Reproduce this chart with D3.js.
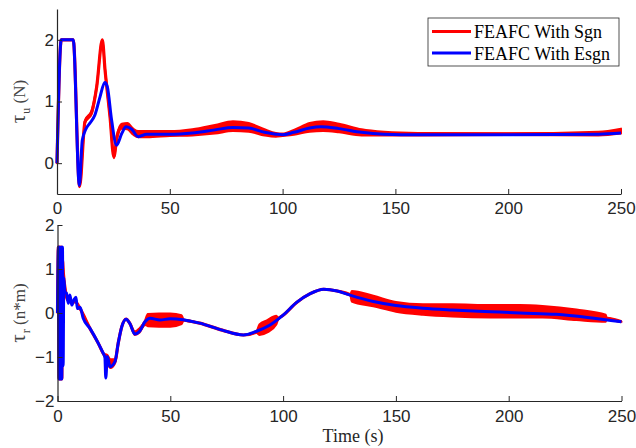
<!DOCTYPE html>
<html>
<head>
<meta charset="utf-8">
<script src="https://cdn.jsdelivr.net/npm/d3@7"></script>
<style>
  body { margin: 0; background: white; }
</style>
</head>
<body>
<main></main>
<script>
// upper panel: tau_u (N)
const tTopSgn = [0, 1.9, 7.2, 10, 12.4, 15.4, 17.6, 20.1, 21.3, 23.5, 25.2, 26.6, 28.7, 31.2, 33.8, 36, 40, 50, 60, 70, 78, 85, 92, 97, 100, 105, 112, 118, 125, 135, 145, 160, 200, 240, 250]
const vTopSgn = [0, 2, 2, -0.38, 0.67, 0.83, 1.24, 2.0, 1.51, 0.75, 0.10, 0.43, 0.60, 0.60, 0.51, 0.47, 0.47, 0.48, 0.50, 0.55, 0.60, 0.58, 0.50, 0.46, 0.46, 0.50, 0.58, 0.60, 0.57, 0.50, 0.48, 0.47, 0.47, 0.48, 0.52]
// half width of the chattering band around the Sgn curve
const aTopSgn = [0, 0, 0, 0, 0.02, 0.03, 0.02, 0, 0.02, 0.02, 0.02, 0.03, 0.04, 0.05, 0.05, 0.05, 0.05, 0.04, 0.05, 0.07, 0.08, 0.07, 0.05, 0.03, 0.02, 0.04, 0.07, 0.08, 0.07, 0.05, 0.03, 0.02, 0.015, 0.03, 0.04]

const tTopEsgn = [0, 1.9, 7.2, 9.9, 11.2, 12.9, 14.6, 16.8, 19.1, 21.2, 22.3, 24.2, 26.4, 28.7, 30.6, 33.1, 36, 39.8, 45, 50, 60, 70, 78, 85, 92, 97, 100, 105, 112, 117, 125, 135, 145, 160, 200, 240, 250]
const vTopEsgn = [0, 2, 2, -0.36, 0.37, 0.56, 0.65, 0.78, 1.08, 1.31, 1.24, 0.70, 0.29, 0.48, 0.59, 0.55, 0.43, 0.47, 0.47, 0.47, 0.49, 0.54, 0.58, 0.57, 0.50, 0.47, 0.46, 0.50, 0.57, 0.59, 0.56, 0.50, 0.47, 0.46, 0.46, 0.47, 0.49]

// lower panel: tau_r (n*m)
const tBotSgn = [0, 0.4, 0.7, 1.0, 1.3, 1.6, 1.9, 2.2, 2.6, 3.5, 4.5, 6, 8, 10, 14.4, 18.1, 20.3, 22, 23.5, 25.5, 26.9, 28.5, 30.4, 32.1, 34.3, 36.3, 38.8, 40, 45, 50, 55, 56, 63, 73, 82.4, 88, 89.5, 93, 97, 98, 100, 106, 112, 118, 124, 129.8, 130.4, 140, 150, 162, 175, 192, 205, 215, 230, 243, 243.5, 250]
const vBotSgn = [0, 1.5, -1.5, 1.5, -1.5, 1.5, -1.5, 1.2, 0.9, 0.5, 0.3, 0.25, 0.25, 0.1, -0.35, -0.69, -0.92, -1.05, -1.15, -1.1, -0.69, -0.31, -0.14, -0.24, -0.46, -0.40, -0.22, -0.16, -0.16, -0.16, -0.15, -0.16, -0.23, -0.39, -0.50, -0.44, -0.38, -0.30, -0.16, -0.12, -0.05, 0.24, 0.44, 0.54, 0.50, 0.41, 0.38, 0.27, 0.14, 0.08, 0.06, 0.04, 0.04, 0.03, -0.04, -0.12, -0.12, -0.2]
const aBotSgn = [0, 0, 0, 0, 0, 0, 0, 0, 0, 0, 0, 0, 0, 0, 0, 0, 0, 0.1, 0.1, 0.05, 0, 0, 0, 0, 0.04, 0.05, 0.05, 0.14, 0.15, 0.15, 0.1, 0, 0, 0, 0, 0, 0.12, 0.14, 0.1, 0, 0, 0, 0, 0, 0, 0, 0.12, 0.12, 0.11, 0.12, 0.14, 0.14, 0.14, 0.13, 0.12, 0.08, 0, 0]

const tBotEsgn = [0, 0.4, 0.7, 1.0, 1.3, 1.6, 1.9, 2.2, 2.5, 2.8, 3.3, 4.0, 4.8, 5.5, 6.3, 7.3, 8.2, 8.8, 10, 11.4, 14.4, 18.1, 20.3, 21.0, 21.4, 22.1, 23.3, 25.5, 26.9, 28.5, 30.4, 32.1, 34.3, 36.3, 38.8, 41, 45.4, 50, 63, 73, 82.4, 88, 94, 100, 106, 112, 118, 124, 130, 140, 150, 162, 175, 192, 205, 221, 235, 250]
const vBotEsgn = [0, 1.5, -1.5, 1.5, -1.5, 1.5, -1.5, 1.5, -1.2, 0.8, 0.48, 0.45, 0.22, 0.41, 0.18, 0.30, 0.36, 0.10, 0.13, -0.12, -0.35, -0.69, -0.92, -1.0, -1.48, -0.99, -1.22, -1.10, -0.69, -0.31, -0.14, -0.24, -0.48, -0.42, -0.20, -0.12, -0.16, -0.13, -0.23, -0.39, -0.50, -0.42, -0.28, -0.05, 0.24, 0.44, 0.54, 0.50, 0.40, 0.26, 0.17, 0.11, 0.07, 0.03, 0.00, -0.03, -0.10, -0.20]

const xTicks = [0, 50, 100, 150, 200, 250]
const yTicksTop = [0, 1, 2]
const yTicksBot = [-2, -1, 0, 1, 2]
const legendLabels = ["FEAFC With Sgn", "FEAFC With Esgn"]

const svgWidth = 636
const svgHeight = 448
const axisColor = "#262626"
const red = "#ff0000"
const blue = "#0000ff"

let svg = d3.select("main")
    .append("svg")
    .attr("width", svgWidth)
    .attr("height", svgHeight)
    .style("display", "block")

function toPoints(ts, vs, as) {
    return ts.map((t, i) => ({ t: t, v: vs[i], a: as ? as[i] : 0 }))
}

function drawPanel(cfg) {
    let xScale = d3.scaleLinear().domain([0, 250]).range([cfg.left, cfg.right])
    let yScale = d3.scaleLinear().domain(cfg.yDomain).range([cfg.bottom, cfg.top])

    let g = svg.append("g")

    let sgn = toPoints(cfg.tSgn, cfg.vSgn, cfg.aSgn)
    let esgn = toPoints(cfg.tEsgn, cfg.vEsgn)

    let band = d3.area()
        .x(d => xScale(d.t))
        .y0(d => yScale(d.v - d.a))
        .y1(d => yScale(d.v + d.a))
        .curve(d3.curveMonotoneX)

    let line = d3.line()
        .x(d => xScale(d.t))
        .y(d => yScale(d.v))
        .curve(d3.curveMonotoneX)

    g.append("path")
        .attr("d", band(sgn))
        .attr("fill", red)
        .attr("stroke", red)
        .attr("stroke-width", 2)
        .attr("stroke-linejoin", "round")

    g.append("path")
        .attr("d", line(sgn))
        .attr("fill", "none")
        .attr("stroke", red)
        .attr("stroke-width", 3.2)
        .attr("stroke-linejoin", "round")

    g.append("path")
        .attr("d", line(esgn))
        .attr("fill", "none")
        .attr("stroke", blue)
        .attr("stroke-width", 3)
        .attr("stroke-linejoin", "round")

    let bottomAxis = d3.axisBottom(xScale)
        .tickValues(xTicks)
        .tickSizeInner(-5)
        .tickSizeOuter(0)
        .tickPadding(cfg.xPad)

    let xAxis = svg.append("g")
        .attr("transform", `translate(0, ${cfg.bottom})`)
        .call(bottomAxis)

    let leftAxis = d3.axisLeft(yScale)
        .tickValues(cfg.yTicks)
        .tickFormat(d3.format("d"))
        .tickSizeInner(-5)
        .tickSizeOuter(0)
        .tickPadding(3)

    let yAxis = svg.append("g")
        .attr("transform", `translate(${cfg.left}, 0)`)
        .call(leftAxis)

    for (let ax of [xAxis, yAxis]) {
        ax.select("path").attr("stroke", axisColor).attr("stroke-width", 1.2)
        ax.selectAll("line").attr("stroke", axisColor).attr("stroke-width", 1)
        ax.selectAll("text")
            .attr("fill", axisColor)
            .style("font-family", "'Liberation Sans', Arial, sans-serif")
            .style("font-size", "17px")
    }

    let label = svg.append("text")
        .attr("transform", `translate(${cfg.labelX}, ${(cfg.top + cfg.bottom) / 2}) rotate(-90)`)
        .attr("text-anchor", "middle")
        .attr("fill", "#444444")
        .style("font-family", "'Liberation Serif', 'Times New Roman', serif")
        .style("font-size", "17px")
    label.append("tspan").style("font-size", "21px").text("τ")
    label.append("tspan").attr("dx", 1).attr("dy", 5).style("font-size", "12px").text(cfg.sub)
    label.append("tspan").attr("dy", -5).text(" " + cfg.unit)
}

drawPanel({
    left: 57, right: 621, top: 9, bottom: 194,
    yDomain: [-0.5, 2.5], yTicks: yTicksTop, xPad: 8,
    tSgn: tTopSgn, vSgn: vTopSgn, aSgn: aTopSgn,
    tEsgn: tTopEsgn, vEsgn: vTopEsgn,
    labelX: 25, sub: "u", unit: "(N)"
})

drawPanel({
    left: 57.5, right: 621.5, top: 225, bottom: 401,
    yDomain: [-2, 2], yTicks: yTicksBot, xPad: 9,
    tSgn: tBotSgn, vSgn: vBotSgn, aSgn: aBotSgn,
    tEsgn: tBotEsgn, vEsgn: vBotEsgn,
    labelX: 25, sub: "r", unit: "(n*m)"
})

svg.append("text")
    .attr("x", 353)
    .attr("y", 442)
    .attr("text-anchor", "middle")
    .attr("fill", axisColor)
    .style("font-family", "'Liberation Serif', 'Times New Roman', serif")
    .style("font-size", "18px")
    .text("Time (s)")

// legend
let legend = svg.append("g")
legend.append("rect")
    .attr("x", 428).attr("y", 18)
    .attr("width", 191).attr("height", 48)
    .attr("fill", "white")
    .attr("stroke", axisColor)
    .attr("stroke-width", 0.8)

let legendColors = [red, blue]
legend.selectAll("g.item")
    .data(legendLabels)
    .enter()
    .append("g")
    .attr("class", "item")
    .attr("transform", (d, i) => `translate(0, ${31.5 + i * 21.5})`)
    .each(function (d, i) {
        let item = d3.select(this)
        item.append("line")
            .attr("x1", 432).attr("x2", 471)
            .attr("stroke", legendColors[i])
            .attr("stroke-width", 3)
        item.append("text")
            .attr("x", 474)
            .attr("y", 6.5)
            .attr("fill", "black")
            .style("font-family", "'Liberation Serif', 'Times New Roman', serif")
            .style("font-size", "18px")
            .text(d)
    })
</script>
</body>
</html>
